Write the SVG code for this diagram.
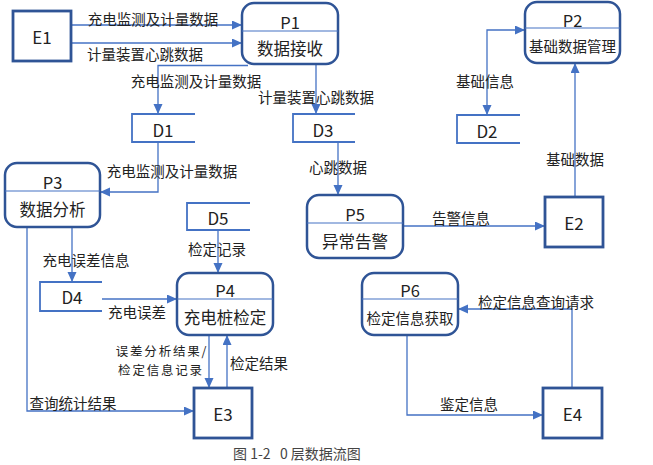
<svg xmlns="http://www.w3.org/2000/svg" width="653" height="465" viewBox="0 0 653 465">
<defs>
<marker id="ah" markerUnits="userSpaceOnUse" markerWidth="11" markerHeight="10" refX="10" refY="4.5" orient="auto-start-reverse" viewBox="0 0 11 10">
<path d="M0,0 L10,4.5 L0,9 z" fill="#4472C4"/>
</marker>
<style>
.proc{fill:#fff;stroke:#2F5496;stroke-width:2.5}
.ext{fill:#fff;stroke:#2F5496;stroke-width:2.8}
.div{stroke:#4472C4;stroke-width:1.2;fill:none}
.store{stroke:#4472C4;stroke-width:1.8;fill:none}
.c{fill:none;stroke:#4472C4;stroke-width:1.3}
.ar{marker-end:url(#ah)}
text{font-family:"Noto Sans CJK SC","Noto Sans",sans-serif;fill:#222;text-anchor:middle;dominant-baseline:central}
.nt{font-size:16.5px}
.nts{font-size:14.5px}
.et{font-size:17px}
.lb{font-size:14.5px}
.lb2{font-size:12.5px;letter-spacing:1.8px}
.cap{font-size:14px;fill:#444;text-anchor:start;white-space:pre}
</style>
</defs>
<rect width="653" height="465" fill="#fff"/>
<g id="connectors">
<path class="c ar" d="M71,25 H242"/>
<path class="c ar" d="M71,43 H242"/>
<path class="c ar" d="M248,65.5 H158 V114"/>
<path class="c ar" d="M316,64 V114"/>
<path class="c ar" d="M158,142 V192 H100"/>
<path class="c ar" d="M338,142 V195"/>
<path class="c ar" d="M403,226 H545"/>
<path class="c ar" d="M575,197 V63"/>
<path class="c ar" d="M525,30 H487 V115" style="marker-start:url(#ah)"/>
<path class="c ar" d="M72,227 V282"/>
<path class="c ar" d="M27,227 V411 H194"/>
<path class="c ar" d="M218,230 V273"/>
<path class="c ar" d="M102,299 H177"/>
<path class="c ar" d="M209,335 V388"/>
<path class="c ar" d="M227,388 V335"/>
<path class="c ar" d="M572,388 V309 H458"/>
<path class="c ar" d="M407,335 V415 H543"/>
<text class="lb" x="153" y="18">充电监测及计量数据</text>
<text class="lb" x="145" y="53">计量装置心跳数据</text>
<text class="lb" x="196" y="80">充电监测及计量数据</text>
<text class="lb" x="316" y="96">计量装置心跳数据</text>
<text class="lb" x="172" y="170">充电监测及计量数据</text>
<text class="lb" x="338" y="166">心跳数据</text>
<text class="lb" x="485" y="80">基础信息</text>
<text class="lb" x="575" y="158">基础数据</text>
<text class="lb" x="461" y="217">告警信息</text>
<text class="lb" x="217" y="248">检定记录</text>
<text class="lb" x="86" y="259">充电误差信息</text>
<text class="lb" x="137" y="311">充电误差</text>
<text class="lb2"><tspan x="162" y="350">误差分析结果/</tspan><tspan x="161" y="368.5">检定信息记录</tspan></text>
<text class="lb" x="259" y="362">检定结果</text>
<text class="lb" x="73" y="402">查询统计结果</text>
<text class="lb" x="536" y="301">检定信息查询请求</text>
<text class="lb" x="469" y="403">鉴定信息</text>
</g>
<g id="E1"><rect class="ext" x="13" y="11" width="58" height="50"/><text class="et" x="42" y="36">E1</text></g>
<g id="E2"><rect class="ext" x="545" y="197" width="58" height="50"/><text class="et" x="574" y="222">E2</text></g>
<g id="E3"><rect class="ext" x="194" y="388" width="58" height="50"/><text class="et" x="223" y="413">E3</text></g>
<g id="E4"><rect class="ext" x="543" y="388" width="59" height="50"/><text class="et" x="572.5" y="413">E4</text></g>
<g id="P1"><rect class="proc" x="242" y="3" width="96" height="61" rx="12"/><line class="div" x1="242" y1="31" x2="338" y2="31"/><text class="nt" x="290" y="21.5">P1</text><text class="nt" x="290" y="48">数据接收</text></g>
<g id="P2"><rect class="proc" x="525" y="2" width="95" height="61" rx="12"/><line class="div" x1="525" y1="28" x2="620" y2="28"/><text class="nt" x="572.5" y="20">P2</text><text class="nts" x="572.5" y="45.5">基础数据管理</text></g>
<g id="P3"><rect class="proc" x="5" y="163" width="95" height="64" rx="12"/><line class="div" x1="5" y1="191" x2="100" y2="191"/><text class="nt" x="52.5" y="181.5">P3</text><text class="nt" x="52.5" y="209">数据分析</text></g>
<g id="P4"><rect class="proc" x="177" y="273" width="96" height="62" rx="12"/><line class="div" x1="177" y1="299" x2="273" y2="299"/><text class="nt" x="225" y="290">P4</text><text class="nt" x="225" y="317">充电桩检定</text></g>
<g id="P5"><rect class="proc" x="307" y="195" width="96" height="63" rx="12"/><line class="div" x1="307" y1="223" x2="403" y2="223"/><text class="nt" x="355" y="213.5">P5</text><text class="nt" x="355" y="240.5">异常告警</text></g>
<g id="P6"><rect class="proc" x="362" y="273" width="96" height="62" rx="12"/><line class="div" x1="362" y1="299" x2="458" y2="299"/><text class="nt" x="410" y="290">P6</text><text class="nts" x="410" y="317">检定信息获取</text></g>
<g id="D1"><path class="store" d="M195,114 H132 V142 H195"/><text class="et" x="163" y="129">D1</text></g>
<g id="D2"><path class="store" d="M520,115 H457 V143 H520"/><text class="et" x="487" y="130">D2</text></g>
<g id="D3"><path class="store" d="M355,114 H293 V142 H355"/><text class="et" x="323" y="129">D3</text></g>
<g id="D4"><path class="store" d="M102,282 H40 V311 H102"/><text class="et" x="72" y="296">D4</text></g>
<g id="D5"><path class="store" d="M250,203 H187 V230 H250"/><text class="et" x="218" y="217">D5</text></g>
<text class="cap" x="233" y="453" xml:space="preserve">图 1-2   0 层数据流图</text>
</svg>
